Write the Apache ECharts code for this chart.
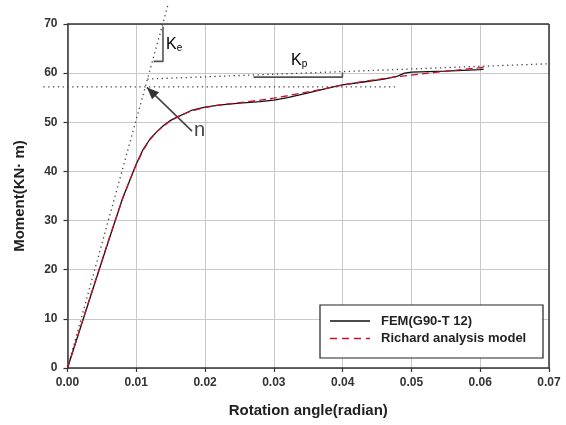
<!DOCTYPE html>
<html><head><meta charset="utf-8">
<script src="https://cdn.jsdelivr.net/npm/echarts@6/dist/echarts.min.js"></script>
<style>html,body{margin:0;padding:0;background:#fff}#c{width:566px;height:425px}</style>
</head><body><div id="c"></div>
<script>
// FEM (black) curve
const femX = [0,0.002,0.004,0.006,0.008,0.009,0.010,0.011,0.012,0.013,0.014,0.015,0.016,0.018,0.020,0.022,0.025,0.028,0.030,0.032,0.035,0.038,0.040,0.043,0.046,0.048,0.049,0.050,0.055,0.060,0.0605];
const femY = [0,8.7,17.4,26.0,34.5,38.0,41.5,44.5,46.6,48.1,49.4,50.4,51.1,52.4,53.1,53.5,53.9,54.2,54.5,55.0,56.0,57.0,57.6,58.2,58.8,59.4,60.0,60.2,60.4,60.7,60.8];
// Richard analysis model (red dashed)
const ricX = [0,0.002,0.004,0.006,0.008,0.009,0.010,0.011,0.012,0.013,0.014,0.015,0.016,0.018,0.020,0.022,0.025,0.028,0.030,0.032,0.035,0.038,0.040,0.043,0.045,0.048,0.050,0.055,0.060,0.0605];
const ricY = [0,8.8,17.5,26.1,34.4,38.0,41.4,44.3,46.5,48.1,49.3,50.3,51.1,52.3,53.0,53.5,54.0,54.5,54.9,55.4,56.2,57.0,57.6,58.3,58.7,59.3,59.6,60.4,61.1,61.2];
// reference (dotted) lines
const keLineX = [0, 0.01465];
const keLineY = [0, 74.1];
const kpLineX = [0.0116, 0.0715];
const kpLineY = [58.8, 62.0];
const yieldLineX = [-0.0035, 0.048];
const yieldLineY = [57.2, 57.2];
// annotation glyphs (data coords)
const keBracketX = [0.01251, 0.01388, 0.01388];
const keBracketY = [62.4, 62.4, 69.5];
const kpBarX = [0.02704, 0.03997, 0.03997];
const kpBarY = [59.18, 59.18, 60.14];
const arrowFrom = [0.0181, 48.2];
const arrowTo = [0.01155, 57.1];
// axes
const xTicks = [0, 0.01, 0.02, 0.03, 0.04, 0.05, 0.06, 0.07];
const yTicks = [0, 10, 20, 30, 40, 50, 60, 70];
const seriesNames = ['FEM(G90-T 12)', 'Richard analysis model'];

const zip = (a, b) => a.map((v, i) => [v, b[i]]);
const FONT = '"Liberation Sans", Arial, sans-serif';
const chart = echarts.init(document.getElementById('c'), null, {renderer: 'canvas'});
const DOT = {color: '#444', width: 1.3, type: [1.3, 3.5]};
const dotted = (data) => ({
  type: 'line', data, symbol: 'none', clip: false, silent: true, z: 1, lineStyle: DOT
});
const solidGray = (data) => ({
  type: 'line', data, symbol: 'none', clip: false, silent: true,
  lineStyle: {color: '#555', width: 1.6}
});
const axisCommon = {
  axisLine: {show: true, lineStyle: {color: '#333', width: 1.5}},
  axisTick: {show: true, inside: false, length: 4, lineStyle: {color: '#333', width: 1.2}},
  splitLine: {show: true, lineStyle: {color: '#c8c8c8', width: 1}},
  nameTextStyle: {fontFamily: FONT, fontWeight: 'bold', fontSize: 15, color: '#222'}
};
chart.setOption({
  animation: false,
  backgroundColor: '#fff',
  grid: {left: 67.5, right: 17, top: 24, bottom: 57},
  xAxis: Object.assign({
    type: 'value', min: xTicks[0], max: xTicks[xTicks.length - 1], interval: 0.01,
    name: 'Rotation angle(radian)', nameLocation: 'middle', nameGap: 35,
    axisLabel: {fontFamily: FONT, fontWeight: 'bold', fontSize: 12, color: '#333', margin: 9,
      formatter: v => v.toFixed(2)}
  }, axisCommon),
  yAxis: Object.assign({
    type: 'value', min: yTicks[0], max: yTicks[yTicks.length - 1], interval: 10,
    name: 'Moment(KN· m)', nameLocation: 'middle', nameGap: 40,
    axisLabel: {fontFamily: FONT, fontWeight: 'bold', fontSize: 12, color: '#333', margin: 10}
  }, axisCommon),
  series: [
    dotted(zip(keLineX, keLineY)),
    dotted(zip(kpLineX, kpLineY)),
    solidGray(zip(keBracketX, keBracketY)),
    solidGray(zip(kpBarX, kpBarY)),
    {
      type: 'line', data: [arrowFrom, arrowTo], symbol: 'none', clip: false, silent: true,
      lineStyle: {color: '#444', width: 1.6}
    },
    {
      name: seriesNames[0], type: 'line', data: zip(femX, femY), symbol: 'none', z: 5,
      lineStyle: {color: '#111', width: 1.3, type: 'solid'}
    },
    {
      name: seriesNames[1], type: 'line', data: zip(ricX, ricY), symbol: 'none', z: 6,
      lineStyle: {color: '#c8102e', width: 1.3, type: [7, 4]}
    }
  ]
});

// annotations & legend placed via the chart's own coordinate conversion
const toPx = p => chart.convertToPixel({gridIndex: 0}, p);
const tip = toPx(arrowTo), tail = toPx(arrowFrom);
const ang = Math.atan2(tip[1] - tail[1], tip[0] - tail[0]);
const L = 12, W = 5;
const bx = tip[0] - L * Math.cos(ang), by = tip[1] - L * Math.sin(ang);
const arrowHead = [tip, [bx + W * Math.sin(ang), by - W * Math.cos(ang)], [bx - W * Math.sin(ang), by + W * Math.cos(ang)]];
const tl = toPx([xTicks[0], yTicks[yTicks.length - 1]]);
const br = toPx([xTicks[xTicks.length - 1], yTicks[0]]);
const yieldPts = zip(yieldLineX, yieldLineY).map(toPx);
chart.setOption({
  graphic: [
    {type: 'polyline', shape: {points: yieldPts}, style: {stroke: DOT.color, lineWidth: DOT.width, lineDash: DOT.type, fill: null}, z: 1},
    {type: 'polygon', shape: {points: arrowHead}, style: {fill: '#333'}, z: 20},
    {type: 'line', shape: {x1: tl[0], y1: tl[1], x2: br[0], y2: tl[1]}, style: {stroke: '#333', lineWidth: 1.5}, z: 10},
    {type: 'line', shape: {x1: br[0], y1: tl[1], x2: br[0], y2: br[1]}, style: {stroke: '#333', lineWidth: 1.5}, z: 10},
    {type: 'text', x: 166, y: 37, style: {
      text: '{a|K}{b|e}', rich: {a: {fontFamily: FONT, fontSize: 16, color: '#444'},
      b: {fontFamily: FONT, fontSize: 10, color: '#444', padding: [6, 0, 0, 0]}}}, z: 20},
    {type: 'text', x: 291, y: 53, style: {
      text: '{a|K}{b|p}', rich: {a: {fontFamily: FONT, fontSize: 16, color: '#444'},
      b: {fontFamily: FONT, fontSize: 10, color: '#444', padding: [6, 0, 0, 0]}}}, z: 20},
    {type: 'text', x: 194, y: 120, style: {text: 'n', font: '20px ' + FONT, fill: '#444'}, z: 20},
    // legend box
    {type: 'rect', shape: {x: 320, y: 305, width: 223, height: 53},
      style: {fill: '#fff', stroke: '#222', lineWidth: 1.2}, z: 30},
    {type: 'line', shape: {x1: 330, y1: 321, x2: 370, y2: 321}, style: {stroke: '#111', lineWidth: 1.3}, z: 31},
    {type: 'line', shape: {x1: 330, y1: 338.5, x2: 370, y2: 338.5}, style: {stroke: '#c8102e', lineWidth: 1.3, lineDash: [7, 5]}, z: 31},
    {type: 'text', x: 381, y: 321, style: {text: seriesNames[0], font: 'bold 13px ' + FONT, fill: '#222', verticalAlign: 'middle'}, z: 31},
    {type: 'text', x: 381, y: 338.5, style: {text: seriesNames[1], font: 'bold 13px ' + FONT, fill: '#222', verticalAlign: 'middle'}, z: 31}
  ]
});
</script></body></html>
